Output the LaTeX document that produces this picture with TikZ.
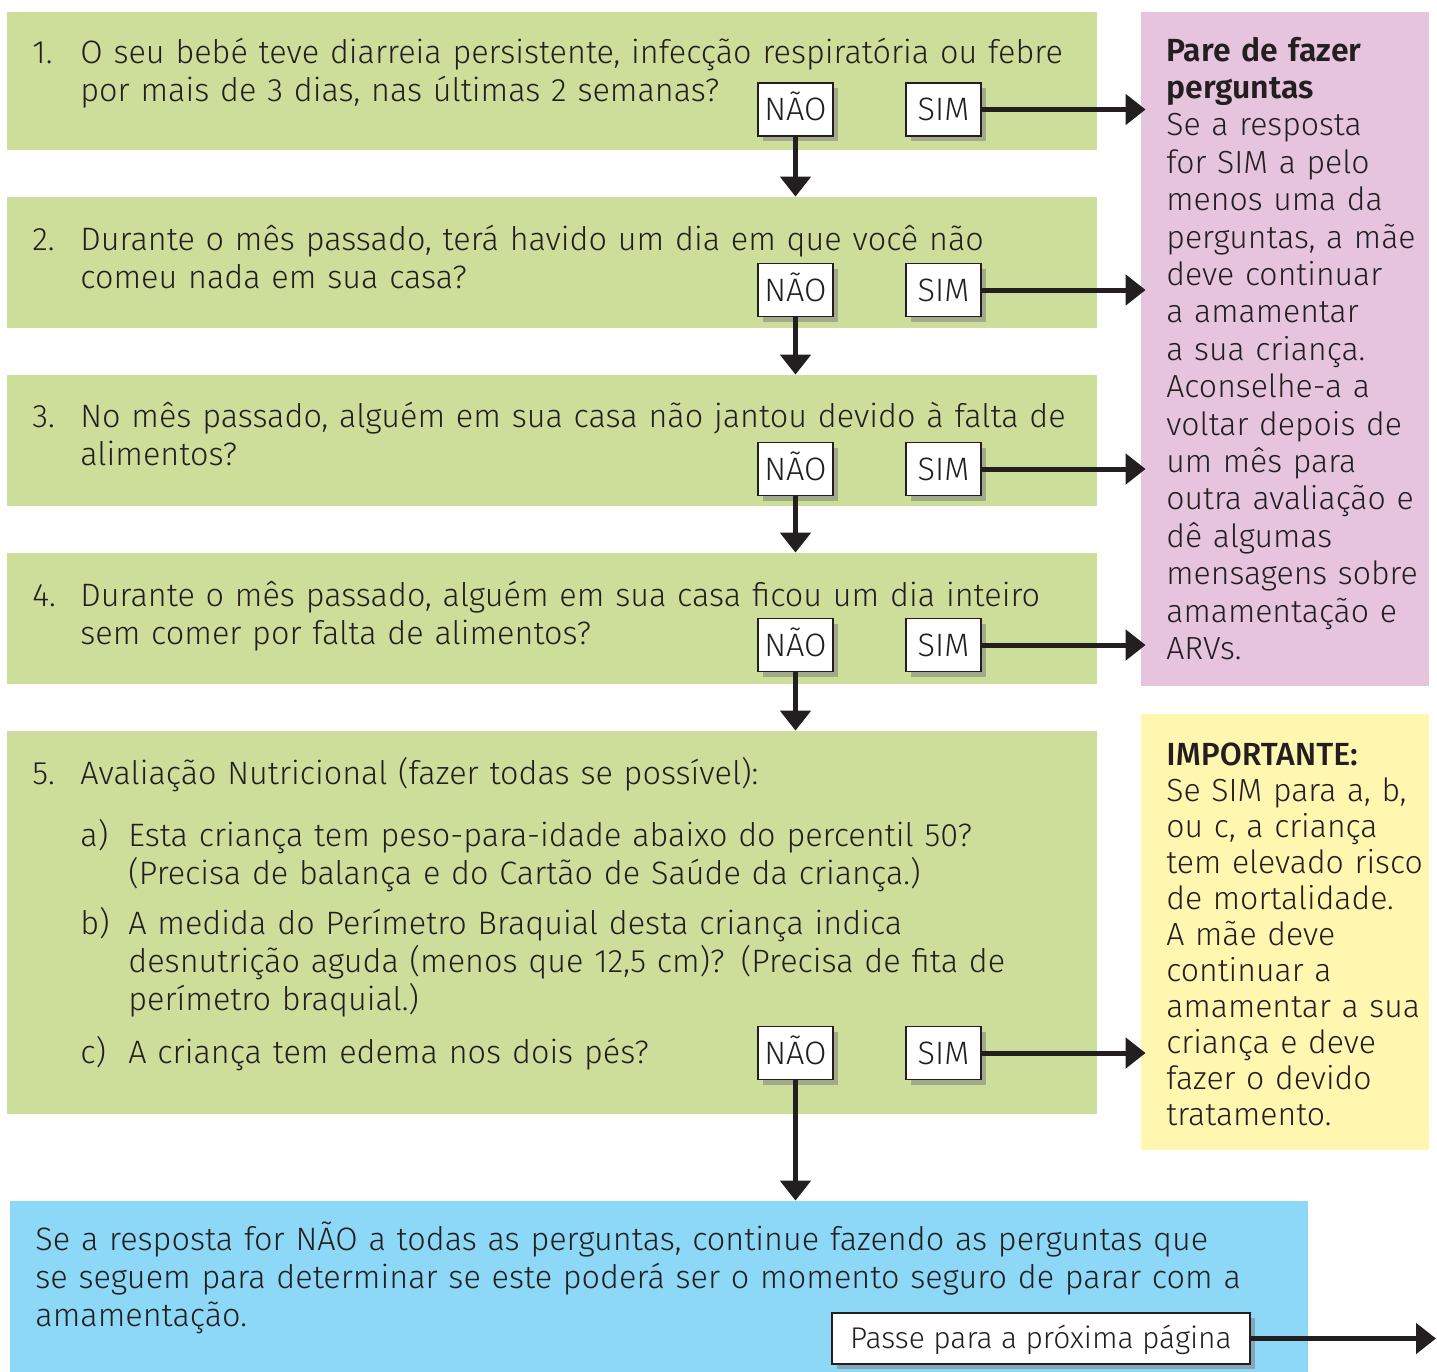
\documentclass[tikz,border=0pt]{standalone}
\usepackage{fontspec}
\setmainfont{Fira Sans Light}[BoldFont={Fira Sans Medium}]
\newfontfamily\heavyfont{Fira Sans SemiBold}
\usetikzlibrary{arrows.meta, positioning, shadows}
\definecolor{qgreen}{RGB}{205,222,155}
\definecolor{stoppink}{RGB}{230,196,222}
\definecolor{warnyellow}{RGB}{255,246,176}
\definecolor{endblue}{RGB}{140,216,246}
\definecolor{ink}{RGB}{35,31,32}

\begin{document}
\begin{tikzpicture}[x=0.5pt, y=-0.5pt, font=\fontsize{16.2}{19}\selectfont, text=ink,
  qbox/.style={fill=qgreen, minimum width=545pt, inner sep=0pt},
  answer/.style={draw=ink, line width=0.6pt, fill=white, minimum width=37.5pt,
    minimum height=26.5pt, inner sep=0pt, text height=11pt, text depth=0pt,
    drop shadow={shadow xshift=2.5pt, shadow yshift=-2.5pt, opacity=0.55}},
  flow/.style={draw=ink, line width=2.5pt, -{Triangle[length=10pt,width=15pt]}},
  qtext/.style={anchor=base west, inner sep=0pt, align=left, text width=530pt},
  side/.style={anchor=base west, inner sep=0pt, align=left, text width=135pt}
]
\useasboundingbox (0,0) rectangle (1437,1372);

% coloured panels
\node[qbox, minimum height=69pt] (q1) at (552,81) {};
\node[qbox, minimum height=65.5pt] (q2) at (552,262.5) {};
\node[qbox, minimum height=65.5pt] (q3) at (552,440.5) {};
\node[qbox, minimum height=65.5pt] (q4) at (552,618.5) {};
\node[qbox, minimum height=191.5pt] (q5) at (552,922.5) {};
\node[fill=endblue, minimum width=649pt, minimum height=85.5pt, inner sep=0pt] (rest) at (659,1286.5) {};
\node[fill=stoppink, minimum width=144pt, minimum height=337pt, inner sep=0pt] (stop) at (1285,349) {};
\node[fill=warnyellow, minimum width=144pt, minimum height=218pt, inner sep=0pt] (warn) at (1285,932) {};

% questions
\node[qtext, text width=30pt] (k1) at (32,63) {1.};
\node[qtext] (t1) at (80,63) {O seu bebé teve diarreia persistente, infecção respiratória ou febre\\por mais de 3 dias, nas últimas 2 semanas?};
\node[qtext, text width=30pt] (k2) at (32,250) {2.};
\node[qtext] (t2) at (80,250) {Durante o mês passado, terá havido um dia em que você não\\comeu nada em sua casa?};
\node[qtext, text width=30pt] (k3) at (32,427) {3.};
\node[qtext] (t3) at (80,427) {No mês passado, alguém em sua casa não jantou devido à falta de\\alimentos?};
\node[qtext, text width=30pt] (k4) at (32,606) {4.};
\node[qtext] (t4) at (80,606) {Durante o mês passado, alguém em sua casa ficou um dia inteiro\\sem comer por falta de alimentos?};
\node[qtext, text width=30pt] (k5) at (32,784) {5.};
\node[qtext] (t5) at (80,784) {Avaliação Nutricional (fazer todas se possível):};
\node[qtext, text width=30pt] (ka) at (80,846) {a)};
\node[qtext, text width=480pt] (ta) at (128,846) {Esta criança tem peso-para-idade abaixo do percentil 50?\\(Precisa de balança e do Cartão de Saúde da criança.)};
\node[qtext, text width=30pt] (kb) at (80,934) {b)};
\node[qtext, text width=480pt] (tb) at (128,934) {A medida do Perímetro Braquial desta criança indica\\desnutrição aguda (menos que 12,5 cm)? (Precisa de fita de\\perímetro braquial.)};
\node[qtext, text width=30pt] (kc) at (80,1063) {c)};
\node[qtext, text width=480pt] (tc) at (128,1063) {A criança tem edema nos dois pés?};

% side notes
\node[side, font=\fontsize{16}{18.7}\selectfont] (stoptext) at (1166,61) {{\heavyfont Pare de fazer}\\{\heavyfont perguntas}\\Se a resposta\\for SIM a pelo\\menos uma da\\perguntas, a mãe\\deve continuar\\a amamentar\\a sua criança.\\Aconselhe-a a\\voltar depois de\\um mês para\\outra avaliação e\\dê algumas\\mensagens sobre\\amamentação e\\ARVs.};
\node[side, font=\fontsize{16}{18}\selectfont] (warntext) at (1166,765) {\textbf{IMPORTANTE:}\\Se SIM para a, b,\\ou c, a criança\\tem elevado risco\\de mortalidade.\\A mãe deve\\continuar a\\amamentar a sua\\criança e deve\\fazer o devido\\tratamento.};
\node[qtext, text width=620pt] (resttext) at (35,1250) {Se a resposta for NÃO a todas as perguntas, continue fazendo as perguntas que\\se seguem para determinar se este poderá ser o momento seguro de parar com a\\amamentação.};

% answers
\foreach \i/\y in {1/109.5, 2/290, 3/469, 4/645, 5/1053} {
  \node[answer] (n\i) at (795.5,\y) {NÃO};
  \node[answer] (s\i) at (943.5,\y) {SIM};
}
\node[answer, minimum width=209pt, minimum height=25.5pt, font=\fontsize{15}{18}\selectfont, text height=10.3pt] (next) at (1041,1338.5) {Passe para a próxima página};
\coordinate (out) at (1436,1338.5);

% connectors
\draw[flow] (n1) -- (q2.north -| n1);
\draw[flow] (n2) -- (q3.north -| n2);
\draw[flow] (n3) -- (q4.north -| n3);
\draw[flow] (n4) -- (q5.north -| n4);
\draw[flow] (n5) -- (rest.north -| n5);
\foreach \i in {1,...,4} {
  \draw[flow, shorten >=-2.5pt] (s\i) -- (s\i -| stop.west);
}
\draw[flow, shorten >=-2.5pt] (s5) -- (s5 -| warn.west);
\draw[flow] (next) -- (out);
\end{tikzpicture}
\end{document}
